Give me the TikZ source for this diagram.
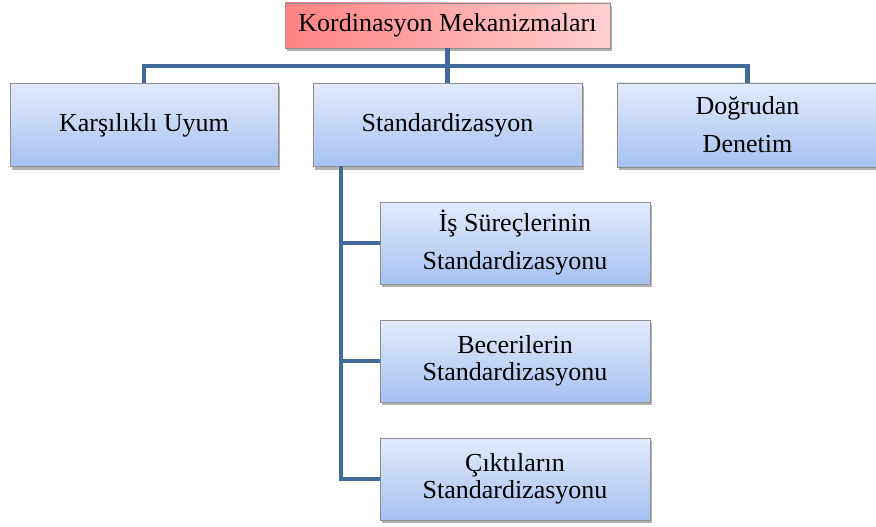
\documentclass[tikz,border=0pt]{standalone}
\usepackage{fontspec}
\setmainfont{Liberation Serif}
\usetikzlibrary{shadows}
\definecolor{boxtop}{HTML}{E2EAFC}
\definecolor{boxbot}{HTML}{A5C2F2}
\definecolor{boxedge}{HTML}{8E8E8E}
\definecolor{rootleft}{HTML}{FF8383}
\definecolor{rootright}{HTML}{FFD0D0}
\definecolor{connblue}{HTML}{41699A}
\begin{document}
\begin{tikzpicture}[x=1pt,y=-1pt,
  box/.style={draw=boxedge, line width=0.8pt, top color=boxtop, bottom color=boxbot,
    inner sep=0pt, align=center, font=\fontsize{26}{38}\selectfont,
    drop shadow={shadow xshift=2pt, shadow yshift=-3pt, fill=black, opacity=0.3}},
  tight/.style={font=\fontsize{26}{27}\selectfont},
  rootbox/.style={box, left color=rootleft, right color=rootright},
  conn/.style={draw=connblue, line width=4.5pt, line join=miter}]
\useasboundingbox (0,0) rectangle (876,527);

% height of the horizontal bar and top of the vertical spine
\coordinate (bar) at (0,66);
\coordinate (spine) at (341,166);

% root
\node[rootbox, minimum width=325pt, minimum height=45pt] (root) at (447.5,25.5) {Kordinasyon Mekanizmaları};

% first level
\node[box, minimum width=268pt, minimum height=83pt] (k) at (144,125) {Karşılıklı Uyum};
\node[box, minimum width=269pt, minimum height=83pt] (s) at (447.5,125) {Standardizasyon};
\node[box, minimum width=261pt, minimum height=84pt] (d) at (747.5,125) {Doğrudan\\Denetim};

% second level
\node[box, minimum width=270pt, minimum height=82pt] (c1) at (515,243) {İş Süreçlerinin\\Standardizasyonu};
\node[box, tight, minimum width=270pt, minimum height=82pt] (c2) at (515,361) {Becerilerin\\Standardizasyonu};
\node[box, tight, minimum width=270pt, minimum height=82pt] (c3) at (515,479) {Çıktıların\\Standardizasyonu};

% connectors
\draw[conn] (root.south) -- (root.south |- bar);
\draw[conn] (k.north) -- (k.north |- bar) -- (d.north |- bar) -- (d.north);
\draw[conn] (s.north |- bar) -- (s.north);
\draw[conn] (spine) |- (c3.west);
\draw[conn] (spine |- c1.west) -- (c1.west);
\draw[conn] (spine |- c2.west) -- (c2.west);
\end{tikzpicture}
\end{document}
